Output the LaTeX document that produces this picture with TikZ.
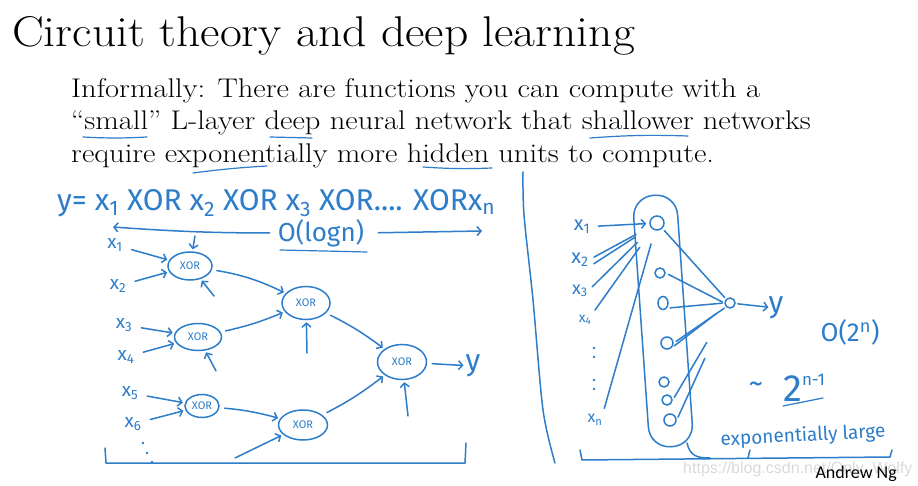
\documentclass[tikz,border=0pt]{standalone}
\usepackage{fontspec}
\usepackage{tikz}
\usetikzlibrary{arrows.meta,positioning,shapes.geometric}
\newfontfamily\slideserif[FakeStretch=1.107]{Latin Modern Roman}
\newfontfamily\bodyserif[FakeStretch=1.13]{Latin Modern Roman}
\newfontfamily\handfont{Fira Sans}
\newfontfamily\slidefont{Carlito}
\newfontfamily\markfont{Liberation Sans}
\definecolor{ink}{HTML}{2D7DCA}
\definecolor{wmark}{HTML}{DADADA}
\newcommand{\sbs}[1]{\textsubscript{#1}}
\tikzset{
  heading/.style={anchor=base west,inner sep=0pt,font=\slideserif\fontsize{43}{46}\selectfont},
  bodyline/.style={anchor=base west,inner sep=0pt,font=\bodyserif\fontsize{27}{32}\selectfont},
  hand/.style={text=ink,inner sep=0pt,font=\handfont\fontsize{#1}{#1}\selectfont},
  hand/.default=20,
  gate/.style={ellipse,draw=ink,line width=1.5pt,inner sep=0pt,text=ink,
    minimum width=46pt,minimum height=30pt,font=\handfont\fontsize{11}{11}\selectfont},
  unit/.style={ellipse,draw=ink,line width=1.5pt,inner sep=0pt,
    minimum width=#1,minimum height=#1},
  unit/.default=10pt,
  stroke/.style={draw=ink,line width=1.5pt,line cap=round,line join=round},
  wire/.style={stroke,-{Straight Barb[length=4pt,width=9pt]}},
  uline/.style={stroke,line width=1.2pt}
}

\begin{document}
\begin{tikzpicture}[x=1pt,y=-1pt]
  \useasboundingbox (0,0) rectangle (918,486);
  \fill[white] (0,0) rectangle (918,486);
  \node[anchor=base west,inner sep=0pt,text=wmark,font=\markfont\fontsize{16}{16}\selectfont]
    (wm) at (683,473) {https://blog.csdn.net/Only\_Wolfy};

  % slide text
  \node[heading] (title) at (12,47) {Circuit theory and deep learning};
  \node[bodyline] (line1) at (71,98) {Informally: There are functions you can compute with a};
  \node[bodyline] (line2) at (71,130) {“small” L-layer deep neural network that shallower networks};
  \node[bodyline] (line3) at (71,163) {require exponentially more hidden units to compute.};
  \draw[uline] (83,137) to[bend right=3] (147,137);
  \draw[uline] (270,137) -- (312,138);
  \draw[uline] (590,138) to[bend left=3] (688,136);
  \draw[uline] (193,173) to[bend left=2] (267,166);
  \draw[uline] (423,167) to[bend right=3] (492,168);
  \node[anchor=base east,inner sep=0pt,font=\slidefont\fontsize{18}{18}\selectfont]
    (author) at (897,478) {Andrew Ng};

  % divider
  \draw[stroke] plot[smooth] coordinates {(523,172) (524,215) (533,300) (543,410) (555,463)};

  % deep circuit
  \node[hand=30,anchor=west] (eq) at (57,203)
    {y= x\sbs{1} XOR x\sbs{2} XOR x\sbs{3} XOR.... XORx\sbs{n}};
  \node[hand=26] (depth) at (321,233) {O(logn)};
  \coordinate (dl) at (113,227);
  \coordinate (dr) at (482,231);
  \draw[wire,shorten <=8pt] (depth.west) to[bend left=2] (dl);
  \draw[wire,shorten <=14pt] (depth.east) -- (dr);
  \draw[uline] (280,250) -- (367,252);

  \node[hand=19] (a1) at (115,245) {x\sbs{1}};
  \node[hand=19] (a2) at (118,286) {x\sbs{2}};
  \node[hand=19] (a3) at (124,325) {x\sbs{3}};
  \node[hand=19] (a4) at (126,357) {x\sbs{4}};
  \node[hand=19] (a5) at (130,393) {x\sbs{5}};
  \node[hand=19] (a6) at (133,424) {x\sbs{6}};
  \foreach \p in {(143,443),(147,453),(152,462)}
    \fill[ink] \p circle (1.3pt);

  \node[gate,minimum width=44pt,minimum height=28pt] (g1) at (190,266) {XOR};
  \node[gate,minimum width=47pt,minimum height=27pt] (g2) at (198,337) {XOR};
  \node[gate,minimum width=34pt,minimum height=23pt] (g3) at (202,406) {XOR};
  \node[gate,minimum width=48pt,minimum height=33pt] (g4) at (306,303) {XOR};
  \node[gate,minimum width=49pt,minimum height=30pt] (g5) at (303,425) {XOR};
  \node[gate,minimum width=49pt,minimum height=35pt] (g6) at (402,362) {XOR};
  \node[hand=30] (yl) at (473,366) {y};

  \coordinate (u1) at (195,236);
  \coordinate (u2) at (214,296);
  \coordinate (u3) at (216,371);
  \coordinate (u4) at (307,353);
  \coordinate (u5) at (408,416);
  \coordinate (u6) at (235,458);

  \begin{scope}[shorten <=9pt,shorten >=2pt]
    \draw[wire] (a1) -- (g1);
    \draw[wire] (a2) -- (g1);
    \draw[wire] (a3) -- (g2);
    \draw[wire] (a4) -- (g2);
    \draw[wire] (a5) -- (g3);
    \draw[wire] (a6) -- (g3);
  \end{scope}
  \begin{scope}[shorten >=2pt]
    \draw[wire] (u1) -- (g1);
    \draw[wire] (u2) -- (g1);
    \draw[wire] (u3) -- (g2);
    \draw[wire] (u4) -- (g4);
    \draw[wire] (u5) -- (g6);
    \draw[wire] (u6) -- (g5);
  \end{scope}
  \begin{scope}[shorten <=5pt,shorten >=2pt]
    \draw[wire] (g1) to[bend left=8] (g4);
    \draw[wire] (g2) to[bend right=5] (g4);
    \draw[wire] (g3) to[bend left=5] (g5);
    \draw[wire] (g4) to[bend left=5] (g6);
    \draw[wire] (g5) to[bend right=5] (g6);
    \draw[wire] (g6) -- (yl);
  \end{scope}
  \draw[stroke] (105,448) -- (106,463) -- (465,463) -- (466,443);

  % shallow network
  \node[draw=ink,line width=1.5pt,rounded corners=21pt,minimum width=44pt,
    minimum height=252pt,rotate=4] (layer) at (663,321) {};
  \node[unit=14pt] (h1) at (657,223) {};
  \node[unit] (h2) at (660,273) {};
  \node[unit,minimum height=13pt] (h3) at (663,303) {};
  \node[unit=12pt] (h4) at (667,343) {};
  \node[unit] (h5) at (664,382) {};
  \node[unit] (h6) at (667,400) {};
  \node[unit=12pt] (h7) at (670,420) {};
  \node[unit] (out) at (730,303) {};
  \node[hand=30] (yr) at (776,308) {y};

  \node[hand=20] (b1) at (582,227) {x\sbs{1}};
  \node[hand=20] (b2) at (580,260) {x\sbs{2}};
  \node[hand=18] (b3) at (580,291) {x\sbs{3}};
  \node[hand=14] (b4) at (585,320) {x\sbs{4}};
  \node[hand=16] (bn) at (595,420) {x\sbs{n}};
  \foreach \y in {348,357,380,389}
    \fill[ink] (594,\y) circle (1.3pt);

  \draw[wire,shorten <=8pt,shorten >=3pt] (b1) -- (h1);
  \begin{scope}[shorten <=6pt]
    \draw[stroke,shorten >=16pt] (b2.east) -- (h1);
    \draw[stroke,shorten >=18pt] (b2.south east) -- (h1);
    \draw[stroke,shorten >=20pt] (b3.east) -- (h1);
    \draw[stroke,shorten >=22pt] (b4.north east) -- (h1);
    \draw[stroke,shorten >=14pt] (bn.north east) -- (h1);
  \end{scope}
  \begin{scope}[shorten <=3pt]
    \draw[stroke,shorten >=2pt] (h1.south east) -- (out.north west);
    \draw[stroke,shorten >=2pt] (h2.east) -- (out.west);
    \draw[stroke,shorten >=2pt] (h3.south east) -- (out.west);
    \draw[stroke,shorten >=2pt] (h4.east) -- (out.south west);
    \draw[stroke,shorten >=12pt] (h4.south east) -- (out);
    \draw[stroke,shorten >=40pt] (h6.east) -- (out);
    \draw[stroke,shorten >=55pt] (h7.east) -- (out);
  \end{scope}
  \draw[wire,shorten <=2pt] (out) -- (yr);

  \node[hand=26] (bigo) at (850,332) {O(2\textsuperscript{n})};
  \node[hand=30] (tilde) at (756,388) {\textasciitilde};
  \node[hand=38,anchor=base west] (pow) at (783,401)
    {2\raisebox{16pt}{\fontsize{17}{17}\selectfont n-1}};
  \draw[uline] (783,406) -- (823,398);
  \node[hand=19,rotate=3] (note) at (803,436) {exponentially large};
  \draw[stroke] (687,443) .. controls (690,456) and (697,458) .. (710,458);
  \draw[stroke] (580,450) -- (582,460) -- (890,457) -- (892,450);
  \draw[stroke] (750,450) -- (748,458);
\end{tikzpicture}
\end{document}
